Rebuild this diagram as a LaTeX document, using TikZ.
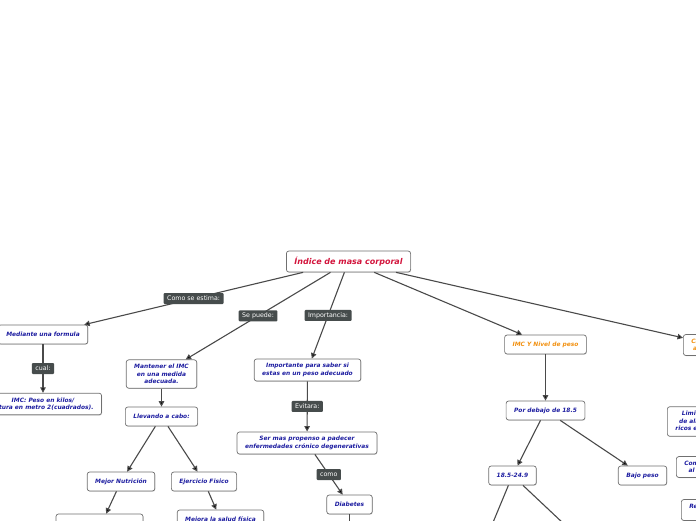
\documentclass[tikz,border=0pt]{standalone}
\usepackage{fontspec}
\setmainfont{DejaVu Sans}
\usetikzlibrary{arrows.meta,shadows}
\definecolor{textblue}{HTML}{1C1CA0}
\definecolor{titlered}{HTML}{D3143C}
\definecolor{titleorange}{HTML}{F2900F}
\definecolor{boxgray}{HTML}{707070}
\definecolor{linegray}{HTML}{4A4A4A}
\definecolor{taggray}{HTML}{464C4C}

\begin{document}
\begin{tikzpicture}
		[x=1pt,y=-1pt,
		block/.style ={rectangle, draw=boxgray, line width=0.7pt, fill=white, rounded corners=2.5pt, align=center, inner xsep=8pt, inner ysep=4.5pt, minimum height=19pt, text=textblue, font=\fontsize{5.9}{7.4}\selectfont\bfseries\itshape, drop shadow={shadow xshift=0.5pt,shadow yshift=-0.7pt,opacity=0.35}},
		title/.style ={block, text=titlered, font=\fontsize{8}{9.6}\selectfont\bfseries\itshape, minimum height=21pt},
		subtitle/.style = {block, text=titleorange},
		tag/.style ={fill=taggray, text=white, rounded corners=1pt, inner xsep=3.5pt, inner ysep=0pt, minimum height=11pt, font=\fontsize{6.3}{7}\selectfont},
		line/.style ={draw=linegray, line width=1.1pt, -{Triangle[length=5.5pt,width=5.5pt]}},
		]

		\fill[white] (0,0) rectangle (696,520);
		\useasboundingbox (0,0) rectangle (696,520);
		\clip (0,0) rectangle (696,520);

		\draw (348.5,261.5) node[title] (R0) {Índice de masa corporal};
		\draw (43,334.5) node[block] (B1) {Mediante una formula};
		\draw (43,404) node[block] (B2) {IMC: Peso en kilos/\\Altura en metro 2(cuadrados).};
		\draw (161.5,374) node[block] (B3) {Mantener el IMC\\en una medida\\adecuada.};
		\draw (161.5,416.5) node[block] (B4) {Llevando a cabo:};
		\draw (121,481.5) node[block] (B5) {Mejor Nutrición};
		\draw (204,481.5) node[block] (B6) {Ejercicio Fisico};
		\draw (99.5,528) node[block, minimum width=87pt, minimum height=28pt] (B7) {};
		\draw (220.5,519.5) node[block] (B8) {Mejora la salud física};
		\draw (307.5,370) node[block] (B9) {Importante para saber si\\estas en un peso adecuado};
		\draw (307,443) node[block] (B10) {Ser mas propenso a padecer\\enfermedades crónico degenerativas};
		\draw (349.5,504.5) node[block] (B11) {Diabetes};
		\draw (545.5,344.5) node[subtitle] (B12) {IMC Y Nivel de peso};
		\draw (545.5,410.5) node[block] (B13) {Por debajo de 18.5};
		\draw (512.5,475.5) node[block] (B14) {18.5-24.9};
		\draw (642.5,475.5) node[block] (B15) {Bajo peso};
		\draw (683,345) node[subtitle, anchor=west] (B16) {Cambios en la\\alimentación};
		\draw (667,421.5) node[block, anchor=west] (B17) {Limitar uso\\de alimentos\\ricos en grasas};
		\draw (676,467) node[block, anchor=west] (B18) {Comer 5 veces\\al día o más};
		\draw (681,510) node[block, anchor=west] (B19) {Realizar ejercicio\\físico diario};
		\coordinate (c1) at (349.5,545);
		\coordinate (c2) at (485.7,540);
		\coordinate (c3) at (581,540);

		\path[line]
		(R0) edge node[tag] {Como se estima:} (B1)
		(R0) edge node[tag] {Se puede:} (B3)
		(R0) edge node[tag] {Importancia:} (B9)
		(R0) edge (B12)
		(R0) edge (B16)
		(B1) edge node[tag] {cual:} (B2)
		(B3) edge (B4)
		(B4) edge (B5)
		(B4) edge (B6)
		(B5) edge (B7)
		(B6) edge (B8)
		(B9) edge node[tag] {Evitara:} (B10)
		(B10) edge node[tag] {como} (B11)
		(B11) edge (c1)
		(B12) edge (B13)
		(B13) edge (B14)
		(B13) edge (B15)
		(B14) edge (c2)
		(B14) edge (c3);

	\end{tikzpicture}
\end{document}
